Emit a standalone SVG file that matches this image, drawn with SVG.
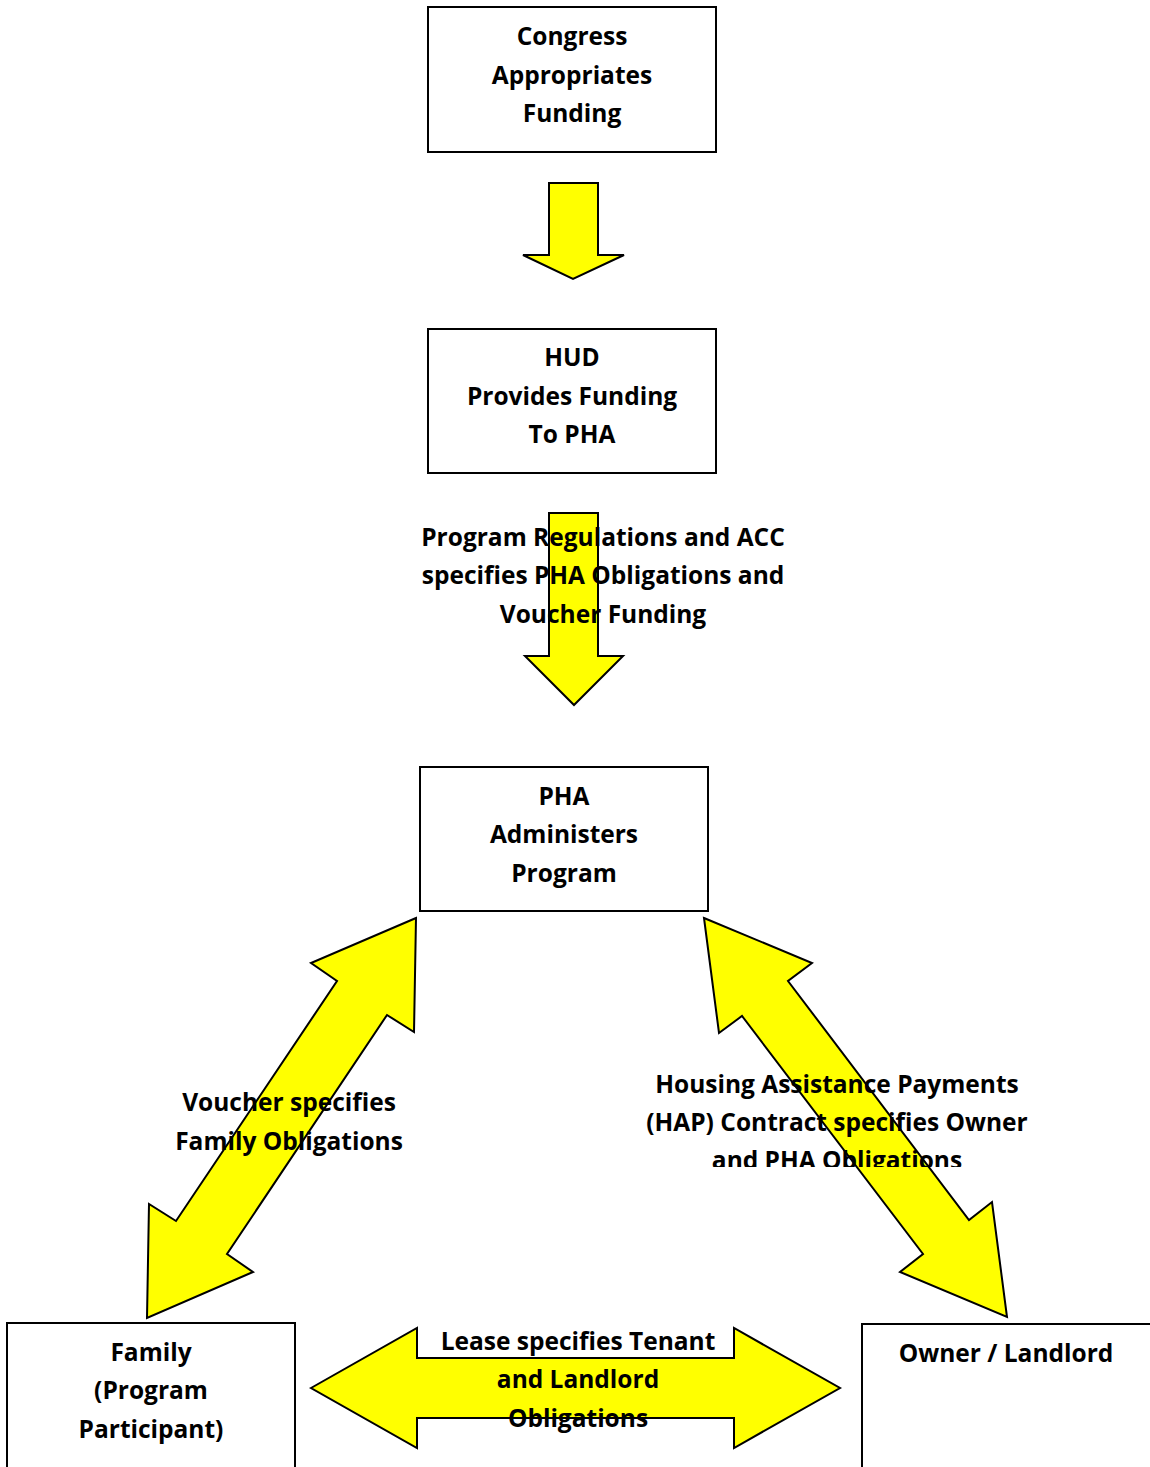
<svg xmlns="http://www.w3.org/2000/svg" width="1150" height="1467" viewBox="0 0 1150 1467">
<style>
.box{fill:#fff;stroke:#000;stroke-width:2}
.arr{fill:#ffff00;stroke:#000;stroke-width:2;stroke-linejoin:miter}
text{font-family:"Open Sans","Liberation Sans",sans-serif;font-weight:bold;font-size:24.5px;fill:#000;text-anchor:middle}
</style>
<defs>
<clipPath id="hapclip"><rect x="600" y="1060" width="500" height="107"/></clipPath>
</defs>
<rect width="1150" height="1467" fill="#fff"/>
<g id="connectors">
<polygon class="arr" points="549,183 598,183 598,255 624,255 573,279 523,255 549,255"/>
<polygon class="arr" points="549,513 598,513 598,656 623,656 574,705 525,656 549,656"/>
<polygon class="arr" points="416,918 311,963 337,981 176,1221 149,1204 147,1318 253,1272 227,1254 387,1015 414,1032"/>
<polygon class="arr" points="704,918 812,963 788,981 969,1220 992,1202 1007,1317 900,1272 923,1254 742,1016 719,1033"/>
<polygon class="arr" points="311,1388 417,1328 417,1358 734,1358 734,1328 840,1388 734,1448 734,1418 417,1418 417,1448"/>
</g>
<g id="congress">
<rect class="box" x="428" y="7" width="288" height="145"/>
<text x="572" y="45">Congress</text>
<text x="572" y="84">Appropriates</text>
<text x="572" y="122">Funding</text>
</g>
<g id="hud">
<rect class="box" x="428" y="329" width="288" height="144"/>
<text x="572" y="366">HUD</text>
<text x="572" y="405">Provides Funding</text>
<text x="572" y="443">To PHA</text>
</g>
<g id="pha">
<rect class="box" x="420" y="767" width="288" height="144"/>
<text x="564" y="805">PHA</text>
<text x="564" y="843">Administers</text>
<text x="564" y="882">Program</text>
</g>
<g id="family">
<rect class="box" x="7" y="1323" width="288" height="150"/>
<text x="151" y="1361">Family</text>
<text x="151" y="1399">(Program</text>
<text x="151" y="1438">Participant)</text>
</g>
<g id="owner">
<rect class="box" x="862" y="1324" width="300" height="150"/>
<text x="1006" y="1362">Owner / Landlord</text>
</g>
<g id="labels">
<text x="603" y="546">Program Regulations and ACC</text>
<text x="603" y="584">specifies PHA Obligations and</text>
<text x="603" y="623">Voucher Funding</text>
<text x="289" y="1111">Voucher specifies</text>
<text x="289" y="1150">Family Obligations</text>
<g clip-path="url(#hapclip)">
<text x="837" y="1093">Housing Assistance Payments</text>
<text x="837" y="1131">(HAP) Contract specifies Owner</text>
<text x="837" y="1169">and PHA Obligations</text>
</g>
<text x="578" y="1350">Lease specifies Tenant</text>
<text x="578" y="1388">and Landlord</text>
<text x="578" y="1427">Obligations</text>
</g>
</svg>
